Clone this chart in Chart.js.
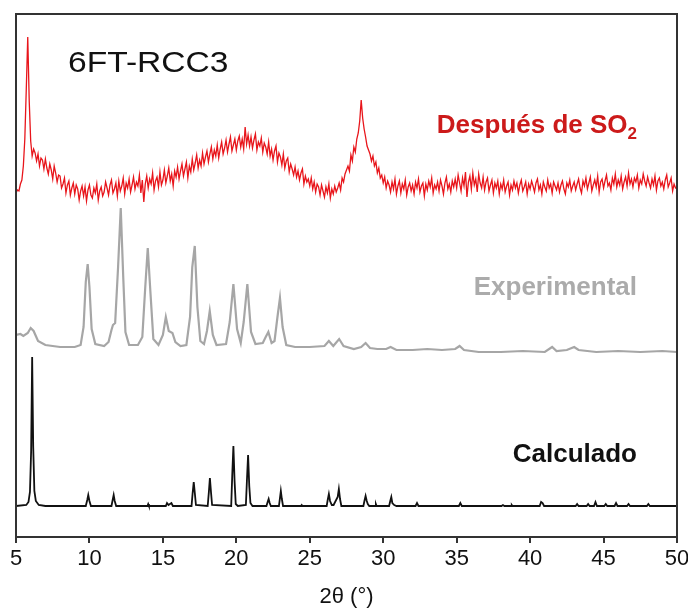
<!DOCTYPE html>
<html>
<head>
<meta charset="utf-8">
<script src="https://cdn.jsdelivr.net/npm/chart.js@4.4.1/dist/chart.umd.min.js"></script>
<style>
  body { margin: 0; background: #fff; }
</style>
</head>
<body>
<canvas id="xrd" width="688" height="610"></canvas>
<script>
// Eje 2θ
const xTicks = [5, 10, 15, 20, 25, 30, 35, 40, 45, 50];

// Calculado (picos, intensidad relativa a la línea base)
const calcX = [5.0, 5.7, 5.85, 5.95, 6.03, 6.1, 6.17, 6.25, 6.35, 6.55, 7.0,
  9.75, 9.85, 9.92, 10.0, 10.1, 11.5, 11.58, 11.65, 11.72, 11.82,
  13.95, 14.0, 14.05, 15.2, 15.28, 15.38, 15.58, 15.68,
  16.95, 17.02, 17.1, 17.18, 17.25, 18.05, 18.13, 18.2, 18.28, 18.35,
  19.65, 19.72, 19.8, 19.88, 19.96, 20.1, 20.65, 20.72, 20.8, 20.88, 20.96, 21.1,
  22.05, 22.13, 22.2, 22.27, 22.35, 22.9, 22.97, 23.03, 23.1, 23.18,
  24.4, 24.45, 24.5, 26.15, 26.22, 26.3, 26.38, 26.5, 26.62, 26.9, 26.98, 27.06, 27.15,
  28.65, 28.72, 28.8, 28.88, 28.95, 29.05, 29.45, 29.5, 29.55,
  30.4, 30.48, 30.55, 30.62, 30.75, 30.9, 32.2, 32.3, 32.4, 35.15, 35.25, 35.35,
  38.05, 38.15, 38.25, 38.7, 38.75, 38.8, 40.65, 40.75, 40.85, 40.95,
  43.1, 43.2, 43.3, 43.85, 43.95, 44.05, 44.35, 44.45, 44.55, 45.05, 45.15, 45.25,
  45.75, 45.85, 45.95, 46.6, 46.7, 46.8, 47.95, 48.05, 48.15, 50.0];
const calcY = [0, 1, 4, 14, 55, 149, 60, 15, 5, 1, 0,
  0, 6, 11, 5, 0, 0, 6, 11, 5, 0,
  0, 2, 0, 0, 3, 1, 3, 0,
  0, 12, 24, 12, 1, 0, 14, 28, 13, 1,
  0, 30, 60, 25, 2, 0, 1, 25, 51, 20, 3, 0,
  0, 4, 7, 3, 0, 0, 8, 15, 7, 0,
  0, 1, 0, 0, 6, 12, 5, 1, 1, 9, 17, 7, 0,
  0, 5, 10, 5, 2, 0, 0, 2, 0,
  0, 5, 9, 3, 1, 0, 0, 3, 0, 0, 3, 0,
  0, 1, 0, 0, 1, 0, 0, 4, 3, 0,
  0, 2, 0, 0, 2, 0, 0, 4, 0, 0, 2, 0,
  0, 3, 0, 0, 2, 0, 0, 2, 0, 0];

// Experimental
const expX = [5.0, 5.3, 5.5, 5.8, 6.0, 6.2, 6.5, 7.0, 8.0, 9.0, 9.4, 9.6, 9.75, 9.88, 10.0, 10.15, 10.4,
  11.0, 11.3, 11.5, 11.6, 11.75, 11.95, 12.13, 12.3, 12.45, 12.7, 13.3, 13.6, 13.8, 13.97, 14.15, 14.35,
  14.7, 15.0, 15.2, 15.4, 15.65, 15.85, 16.2, 16.6, 16.85, 17.0, 17.17, 17.35, 17.55, 17.8, 18.0, 18.19,
  18.4, 18.65, 19.3, 19.55, 19.8, 20.05, 20.3, 20.5, 20.75, 21.0, 21.3, 21.8, 22.0, 22.18, 22.4, 22.6,
  22.8, 22.97, 23.15, 23.4, 24.0, 25.0, 26.0, 26.3, 26.6, 27.0, 27.3, 28.0, 28.5, 28.8, 29.1, 29.6,
  30.2, 30.5, 30.9, 32.0, 33.0, 34.0, 34.9, 35.2, 35.5, 36.5, 38.0, 39.5, 41.0, 41.5, 41.8, 42.5,
  43.0, 43.3, 44.5, 46.0, 47.5, 49.0, 50.0];
const expY = [12, 13, 11, 14, 19, 16, 6, 2, 0, 0, 2, 20, 65, 83, 60, 18, 3,
  1, 5, 17, 22, 24, 80, 139, 70, 15, 2, 2, 10, 60, 99, 55, 8,
  2, 12, 30, 16, 14, 5, 1, 2, 30, 80, 101, 40, 6, 3, 16, 36,
  12, 2, 3, 25, 63, 18, 4, 25, 63, 15, 3, 4, 10, 15, 4, 6,
  30, 49, 20, 2, 0, 0, 1, 6, 1, 8, 1, -2, 0, 4, -1, -2,
  -2, 0, -3, -3, -2, -3, -2, 1, -3, -5, -5, -4, -5, 0, -4, -3,
  0, -3, -5, -4, -5, -4, -5];

// Después de SO2: paso de 0.1° desde 5°
const so2Start = 5.0;
const so2Step = 0.1;
const so2Y = [
  4, 7, 6, 13, 17, 31, 58, 108, 160, 96,
  56, 41, 48, 44, 36, 43, 31, 39, 37, 28,
  38, 29, 23, 33, 27, 18, 31, 24, 15, 22,
  21, 9, 13, 19, 4, 12, 16, 2, 9, 14,
  3, 12, 8, -3, 6, 11, 1, 10, -4, 7,
  12, 2, -1, 9, 4, 13, -3, 6, 10, 1,
  5, 15, 9, 2, 12, 17, 4, 8, 14, 1,
  16, 6, 11, 19, 3, 14, 9, 18, 5, 12,
  20, 8, 15, 11, 22, 4, 17, -5, 13, 21,
  9, 18, 13, 24, 7, 16, 20, 10, 25, 12,
  17, 27, 14, 21, 29, 16, 23, 11, 26, 20,
  30, 18, 26, 33, 21, 28, 35, 19, 31, 25,
  38, 27, 34, 42, 29, 37, 31, 44, 33, 40,
  46, 35, 43, 50, 38, 47, 41, 52, 39, 48,
  55, 43, 49, 57, 45, 53, 60, 46, 52, 58,
  47, 56, 61, 50, 58, 48, 70, 53, 62, 51,
  60, 49, 57, 63, 47, 55, 51, 59, 45, 54,
  50, 43, 55, 41, 48, 37, 46, 51, 35, 44,
  40, 32, 43, 29, 36, 39, 25, 33, 28, 22,
  30, 20, 26, 17, 24, 28, 13, 21, 15, 18,
  11, 19, 8, 15, 5, 13, 10, 2, 12, 6,
  0, 10, 4, 13, -1, 8, 3, 11, 5, 9,
  14, 7, 19, 15, 23, 27, 31, 26, 42, 36,
  50, 45, 58, 64, 76, 97, 79, 68, 60, 51,
  47, 43, 36, 41, 31, 35, 24, 29, 19, 22,
  14, 20, 9, 16, 12, 5, 15, 8, 18, 3,
  11, 16, 4, 13, 8, 17, 2, 10, 14, 6,
  12, 3, 15, 9, 18, 5, 11, 14, 1, 13,
  7, 16, 10, 19, 4, 12, 8, 15, 6, 17,
  11, 3, 14, 20, 8, 13, 5, 16, 10, 18,
  9, 22, 14, 6, 19, 11, 25, 0, 15, 21,
  8, 24, 12, 18, 5, 23, 14, 9, 20, 7,
  15, 19, 6, 12, 17, 4, 14, 9, 16, 3,
  13, 8, 17, 5, 11, 15, 2, 12, 7, 16,
  9, 14, 4, 12, 17, 6, 10, 15, 3, 13,
  8, 16, 11, 5, 14, 18, 7, 12, 3, 15,
  10, 6, 17, 9, 13, 4, 15, 11, 7, 14,
  5, 12, 16, 8, 3, 14, 10, 17, 6, 11,
  15, 7, 13, 18, 9, 4, 16, 11, 19, 8,
  14, 20, 6, 12, 17, 10, 21, 5, 15, 18,
  9, 16, 22, 11, 14, 7, 19, 13, 23, 10,
  17, 12, 21, 8, 15, 20, 11, 24, 13, 18,
  10, 19, 15, 22, 9, 17, 13, 23, 16, 11,
  20, 14, 9, 18, 12, 21, 7, 16, 19, 11,
  15, 8, 17, 22, 10, 14, 19, 6, 13, 9,
  10
];

// desplazamiento vertical de cada patrón
const offsets = { calc: 31, exp: 190, so2: 340 };

const font = "'Liberation Sans', Arial, sans-serif";

function points(xs, ys, off) {
  return ys.map((y, i) => ({ x: xs[i], y: y + off }));
}
const so2X = so2Y.map((_, i) => +(so2Start + i * so2Step).toFixed(2));

// marco y etiquetas de texto
const frameAndLabels = {
  id: 'frameAndLabels',
  afterDraw(chart) {
    const { ctx, chartArea: a } = chart;
    ctx.save();
    ctx.strokeStyle = '#333';
    ctx.lineWidth = 2;
    ctx.strokeRect(a.left, a.top, a.right - a.left, a.bottom - a.top);

    ctx.fillStyle = '#111';
    ctx.textBaseline = 'alphabetic';
    ctx.font = '30px ' + font;
    ctx.save();
    ctx.translate(68, 72);
    ctx.scale(1.12, 1);
    ctx.fillText('6FT-RCC3', 0, 0);
    ctx.restore();

    ctx.textAlign = 'right';
    ctx.font = 'bold 26px ' + font;
    ctx.fillStyle = '#111';
    ctx.fillText('Calculado', 637, 462);
    ctx.fillStyle = '#ababab';
    ctx.fillText('Experimental', 637, 295);

    ctx.fillStyle = '#cc1a1a';
    ctx.font = 'bold 17px ' + font;
    const w2 = ctx.measureText('2').width;
    ctx.fillText('2', 637, 139);
    ctx.font = 'bold 26px ' + font;
    ctx.fillText('Después de SO', 637 - w2, 133);
    ctx.restore();
  }
};

const ctx = document.getElementById('xrd').getContext('2d');
new Chart(ctx, {
  type: 'line',
  data: {
    datasets: [
      {
        label: 'Calculado',
        data: points(calcX, calcY, offsets.calc),
        borderColor: '#111',
        borderWidth: 1.8
      },
      {
        label: 'Experimental',
        data: points(expX, expY, offsets.exp),
        borderColor: '#a6a6a6',
        borderWidth: 2.2
      },
      {
        label: 'Después de SO2',
        data: points(so2X, so2Y, offsets.so2),
        borderColor: '#e8151b',
        borderWidth: 1.3
      }
    ]
  },
  options: {
    responsive: false,
    animation: false,
    parsing: false,
    elements: { point: { radius: 0 }, line: { tension: 0 } },
    layout: { padding: { left: 16, right: 11, top: 14, bottom: 0 } },
    plugins: { legend: { display: false }, tooltip: { enabled: false } },
    scales: {
      x: {
        type: 'linear',
        min: 5,
        max: 50,
        afterBuildTicks: s => { s.ticks = xTicks.map(v => ({ value: v })); },
        afterFit: s => { s.height = 73; s.paddingLeft = 0; s.paddingRight = 0; },
        ticks: {
          color: '#111',
          font: { family: font, size: 22 },
          padding: 3,
          maxRotation: 0,
          autoSkip: false
        },
        grid: { drawOnChartArea: false, drawTicks: true, tickLength: 6, color: '#333', lineWidth: 2 },
        border: { color: '#333', width: 2 },
        title: {
          display: true,
          text: '2θ (°)',
          color: '#111',
          font: { family: font, size: 22 },
          padding: { top: 0, bottom: 0 }
        }
      },
      y: { display: false, min: 0, max: 523 }
    }
  },
  plugins: [frameAndLabels]
});
</script>
</body>
</html>
